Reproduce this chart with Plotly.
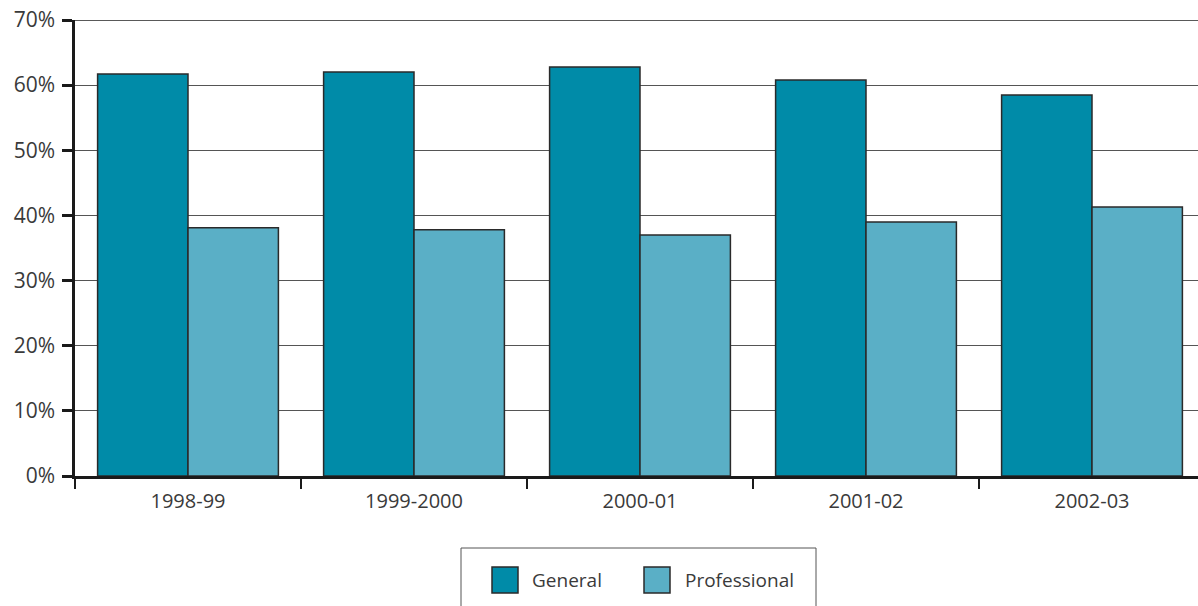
import plotly.graph_objects as go

categories = ["1998-99", "1999-2000", "2000-01", "2001-02", "2002-03"]
general = [61.7, 62.0, 62.8, 60.8, 58.5]
professional = [38.1, 37.8, 37.0, 39.0, 41.3]
y_ticks = [0, 10, 20, 30, 40, 50, 60, 70]
y_tick_labels = [f"{v}%" for v in y_ticks]

C_GEN = "#008BA8"
C_PRO = "#5AAFC6"
EDGE = "#2a2a2a"
TXT = "#3a3a3a"
FONT = "Open Sans"

W, H = 1198, 606
ML, MR, MT, MB = 75, 0, 20, 130
PW = W - ML - MR
PH = H - MT - MB
CAT_PX = 226


def px_x(p):
    return (p - ML) / PW


def px_y(p):
    return (H - MB - p) / PH


fig = go.Figure()
fig.add_trace(go.Bar(x=categories, y=general, name="General",
                     marker=dict(color=C_GEN, line=dict(color=EDGE, width=1.5)),
                     showlegend=False))
fig.add_trace(go.Bar(x=categories, y=professional, name="Professional",
                     marker=dict(color=C_PRO, line=dict(color=EDGE, width=1.5)),
                     showlegend=False))

fig.update_layout(
    width=W, height=H,
    margin=dict(l=ML, r=MR, t=MT, b=MB, pad=0),
    paper_bgcolor="white", plot_bgcolor="white",
    barmode="group", bargap=0.2, bargroupgap=0,
    font=dict(family=FONT, size=19, color=TXT),
    xaxis=dict(
        type="category", categoryorder="array", categoryarray=categories,
        range=[-0.5, -0.5 + PW / CAT_PX],
        showgrid=False, showline=True, linecolor="#1a1a1a", linewidth=2.5,
        ticks="outside", tickson="boundaries", ticklen=10, tickwidth=2,
        tickcolor="#1a1a1a", tickfont=dict(size=20, color=TXT),
        ticklabelstandoff=5, fixedrange=True,
    ),
    yaxis=dict(
        range=[0, 70], tickvals=y_ticks, ticktext=y_tick_labels,
        showgrid=True, gridcolor="#555555", gridwidth=1,
        showline=True, linecolor="#1a1a1a", linewidth=2.5,
        ticks="outside", ticklen=10, tickwidth=2.5, tickcolor="#1a1a1a",
        tickfont=dict(size=21, color=TXT), ticklabelstandoff=3,
        zeroline=False, fixedrange=True,
    ),
)

# top border line (70%)
fig.add_shape(type="line", xref="paper", yref="y", x0=0, x1=1, y0=70, y1=70,
              line=dict(color="#222222", width=1.5))

# manual legend box
fig.add_shape(type="rect", xref="paper", yref="paper",
              x0=px_x(461), x1=px_x(816), y0=px_y(640), y1=px_y(548),
              line=dict(color="#555555", width=1), fillcolor="rgba(0,0,0,0)")
legend_items = [("General", C_GEN, 492, 530), ("Professional", C_PRO, 644, 683)]
for name, col, sx, tx in legend_items:
    fig.add_shape(type="rect", xref="paper", yref="paper",
                  x0=px_x(sx), x1=px_x(sx + 26), y0=px_y(593), y1=px_y(567),
                  line=dict(color=EDGE, width=1.5), fillcolor=col)
    fig.add_annotation(xref="paper", yref="paper", x=px_x(tx), y=px_y(580),
                       text=name, showarrow=False, xanchor="left", yanchor="middle",
                       font=dict(size=19, color=TXT, family=FONT))

fig.write_html("out.html", config={"displayModeBar": False},
               post_script="document.body.style.margin='0';document.body.style.overflow='hidden';")
